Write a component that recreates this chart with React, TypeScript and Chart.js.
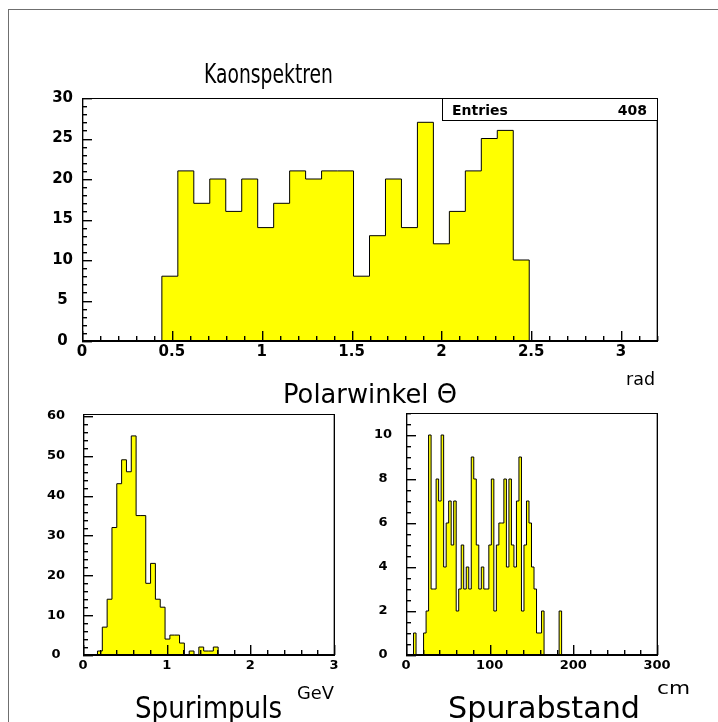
import React, { useEffect, useRef } from "react";
import { Chart, registerables } from "chart.js";

Chart.register(...registerables);

// ---------------- data ----------------
const kaonRange = [0, 3.2];
const kaonCounts = [
  0, 0, 0, 0, 0, 8, 21, 17, 20, 16, 20, 14, 17, 21, 20, 21, 21, 8, 13, 20, 14, 27, 12, 16, 21, 25, 26, 10,
  0, 0, 0, 0, 0, 0, 0, 0,
];
const kaonXTicks = [0, 0.5, 1, 1.5, 2, 2.5, 3];
const kaonYTicks = [0, 5, 10, 15, 20, 25, 30];
const kaonYMax = 30;
const kaonEntries = 408;

const momentumRange = [0, 3];
const momentumCounts = [
  0, 0, 0, 1, 7, 14, 32, 43, 49, 46, 55, 35, 35, 18, 23, 14, 12, 4, 5, 5, 3, 0, 1, 0, 2, 1, 1, 2,
  0, 0, 0, 0, 0, 0, 0, 0, 0, 0, 0, 0, 0, 0, 0, 0, 0, 0, 0, 0, 0, 0, 0, 0,
];
const momentumXTicks = [0, 1, 2, 3];
const momentumYTicks = [0, 10, 20, 30, 40, 50, 60];
const momentumYMax = 60.5;

const distanceRange = [0, 300];
const distanceCounts = [
  0, 0, 0, 1, 0, 0, 0,
  1, 2, 10, 3, 3, 8, 7, 10, 4, 6,
  7, 5, 7, 2, 3, 5, 3, 4, 3, 9,
  8, 5, 3, 4, 3, 3, 5, 8, 2, 5,
  6, 6, 8, 4, 8, 5, 4, 7, 9, 2,
  5, 7, 6, 4, 3, 1, 1, 2,
  0, 0, 0, 0, 0, 0,
  2,
  0, 0, 0, 0, 0, 0, 0, 0, 0, 0, 0, 0, 0, 0, 0, 0, 0, 0, 0,
  0, 0, 0, 0, 0, 0, 0, 0, 0, 0, 0, 0, 0, 0, 0, 0, 0, 0, 0,
];
const distanceXTicks = [0, 100, 200, 300];
const distanceYTicks = [0, 2, 4, 6, 8, 10];
const distanceYMax = 11;

// ---------------- layout / style ----------------
const W = 718;
const H = 722;
const AXIS_W = 50;
const AXIS_H = 30;
const TICK_FONT = '"DejaVu Sans"';
const TITLE_FONT = '"DejaVu Sans"';
const TITLE_WEIGHT = "normal";

type TextSpec = { text: string; left: number; baseline: number; size: number; width: number };

type Spec = {
  counts: number[];
  range: number[];
  yMax: number;
  xTicks: number[];
  yTicks: number[];
  xMinor: number;
  yMinor: number;
  xMajor: number;
  yMajor: number;
  area: { left: number; right: number; top: number; bottom: number };
  tickSize: number;
  xPad: number;
  yPad: number;
  majorLen: number;
  minorLen: number;
  texts: TextSpec[];
  statBox?: { left: number; top: number; right: number; bottom: number; label: string; value: string; size: number; textLeft: number; textRight: number; baseline: number };
  outerFrame?: boolean;
};

function histPoints(counts: number[], range: number[]) {
  const [lo, hi] = range;
  const w = (hi - lo) / counts.length;
  const pts: { x: number; y: number }[] = [{ x: lo, y: 0 }];
  counts.forEach((c, i) => pts.push({ x: lo + i * w, y: c }));
  pts.push({ x: hi, y: 0 });
  return pts;
}

function isMultiple(v: number, step: number) {
  const r = v / step;
  return Math.abs(r - Math.round(r)) < 1e-6;
}

function makePlugin(spec: Spec) {
  return {
    id: "histFrame",
    afterDraw(chart: any) {
      const ctx: CanvasRenderingContext2D = chart.ctx;
      const a = chart.chartArea;
      const xs = chart.scales.x;
      const ys = chart.scales.y;
      const L = Math.round(a.left);
      const R = Math.round(a.right);
      const T = Math.round(a.top);
      const B = Math.round(a.bottom);
      const [x0, x1] = spec.range;
      ctx.save();
      // frame box with thicker bottom axis
      ctx.fillStyle = "#000";
      ctx.fillRect(L, T, R - L + 1, 1);
      ctx.fillRect(L, T, 1, B - T + 1);
      ctx.fillRect(R, T, 1, B - T + 1);
      ctx.fillRect(L, B - 1, R - L + 1, 2);
      ctx.fillStyle = "rgba(0,0,0,0.35)";
      ctx.fillRect(L + 1, T + 1, 1, B - T - 1);
      ctx.fillRect(R - 1, T + 1, 1, B - T - 1);
      // x ticks (inward, from the bottom axis)
      const nx = Math.round((x1 - x0) / spec.xMinor + 1e-6);
      for (let i = 0; i <= nx; i++) {
        const v = x0 + i * spec.xMinor;
        const px = Math.min(Math.round(xs.getPixelForValue(v)), R);
        const len = isMultiple(v, spec.xMajor) ? spec.majorLen : spec.minorLen;
        ctx.fillStyle = "#000";
        ctx.fillRect(px, B - len, 1, len);
        ctx.fillStyle = "rgba(0,0,0,0.4)";
        ctx.fillRect(px + 1, B - len, 1, len);
      }
      // y ticks (inward, from the left axis)
      const ny = Math.floor(spec.yMax / spec.yMinor + 1e-6);
      for (let i = 0; i <= ny; i++) {
        const v = i * spec.yMinor;
        const py = Math.max(Math.round(ys.getPixelForValue(v)), T);
        const len = isMultiple(v, spec.yMajor) ? spec.majorLen : spec.minorLen;
        ctx.fillStyle = "#000";
        ctx.fillRect(L, py, len, 1);
        ctx.fillStyle = "rgba(0,0,0,0.4)";
        ctx.fillRect(L, py + 1, len, 1);
      }

      if (spec.statBox) {
        const s = spec.statBox;
        ctx.fillStyle = "#fff";
        ctx.fillRect(s.left, s.top, s.right - s.left, s.bottom - s.top);
        ctx.fillStyle = "#000";
        ctx.fillRect(s.left, s.top, s.right - s.left + 1, 1);
        ctx.fillRect(s.left, s.bottom, s.right - s.left + 1, 1);
        ctx.fillRect(s.left, s.top, 1, s.bottom - s.top);
        ctx.fillRect(s.right, s.top, 1, s.bottom - s.top);
        ctx.font = `bold ${s.size}px ${TICK_FONT}`;
        ctx.textBaseline = "alphabetic";
        ctx.textAlign = "left";
        ctx.fillText(s.label, s.textLeft, s.baseline);
        ctx.textAlign = "right";
        ctx.fillText(s.value, s.textRight, s.baseline);
      }

      if (spec.outerFrame) {
        ctx.fillStyle = "#6f6f6f";
        ctx.fillRect(8, 9, 1, H - 9);
        ctx.fillRect(8, 9, W - 8, 1);
      }

      ctx.fillStyle = "#000";
      ctx.textAlign = "left";
      ctx.textBaseline = "alphabetic";
      for (const t of spec.texts) {
        ctx.font = `${TITLE_WEIGHT} ${t.size}px ${TITLE_FONT}`;
        const m = ctx.measureText(t.text).width || 1;
        ctx.save();
        ctx.translate(t.left, t.baseline);
        ctx.scale(t.width / m, 1);
        ctx.fillText(t.text, 0, 0);
        ctx.restore();
      }
      ctx.restore();
    },
  };
}

function makeConfig(spec: Spec): any {
  const { area } = spec;
  const font = { family: TICK_FONT, size: spec.tickSize, weight: "bold" as const };
  return {
    type: "line",
    data: {
      datasets: [
        {
          data: histPoints(spec.counts, spec.range),
          stepped: true,
          fill: "origin",
          borderColor: "#000",
          borderWidth: 1,
          backgroundColor: "#ffff00",
          pointRadius: 0,
          pointHoverRadius: 0,
          tension: 0,
        },
      ],
    },
    options: {
      responsive: false,
      animation: false,
      events: [],
      layout: {
        padding: {
          left: area.left - AXIS_W,
          right: W - area.right,
          top: area.top,
          bottom: H - area.bottom - AXIS_H,
        },
      },
      plugins: { legend: { display: false }, tooltip: { enabled: false }, title: { display: false } },
      scales: {
        x: {
          type: "linear",
          min: spec.range[0],
          max: spec.range[1],
          grid: { display: false, drawTicks: false },
          border: { display: false },
          afterBuildTicks: (s: any) => {
            s.ticks = spec.xTicks.map((v) => ({ value: v }));
          },
          afterFit: (s: any) => {
            s.height = AXIS_H;
            s.paddingLeft = 0;
            s.paddingRight = 0;
          },
          ticks: {
            autoSkip: false,
            maxRotation: 0,
            minRotation: 0,
            padding: spec.xPad,
            color: "#000",
            font,
            callback: (v: number) => String(v),
          },
        },
        y: {
          type: "linear",
          min: 0,
          max: spec.yMax,
          grid: { display: false, drawTicks: false },
          border: { display: false },
          afterBuildTicks: (s: any) => {
            s.ticks = spec.yTicks.map((v) => ({ value: v }));
          },
          afterFit: (s: any) => {
            s.width = AXIS_W;
            s.paddingTop = 0;
            s.paddingBottom = 0;
          },
          ticks: {
            autoSkip: false,
            crossAlign: "center",
            padding: spec.yPad,
            color: "#000",
            font,
            callback: (v: number) => String(v),
          },
        },
      },
    },
    plugins: [makePlugin(spec)],
  };
}

const specs: Spec[] = [
  {
    counts: kaonCounts,
    range: kaonRange,
    yMax: kaonYMax,
    xTicks: kaonXTicks,
    yTicks: kaonYTicks,
    xMinor: 0.1,
    yMinor: 1,
    xMajor: 0.5,
    yMajor: 5,
    area: { left: 82, right: 657, top: 98, bottom: 341 },
    tickSize: 15,
    xPad: 2,
    yPad: 9,
    majorLen: 10,
    minorLen: 5,
    outerFrame: true,
    statBox: {
      left: 442,
      top: 98,
      right: 657,
      bottom: 120,
      label: "Entries",
      value: String(kaonEntries),
      size: 14,
      textLeft: 452,
      textRight: 647,
      baseline: 115,
    },
    texts: [
      { text: "Kaonspektren", left: 204, baseline: 83, size: 27, width: 129 },
      { text: "Polarwinkel Θ", left: 283, baseline: 403, size: 27, width: 174 },
      { text: "rad", left: 626, baseline: 385, size: 17, width: 29 },
    ],
  },
  {
    counts: momentumCounts,
    range: momentumRange,
    yMax: momentumYMax,
    xTicks: momentumXTicks,
    yTicks: momentumYTicks,
    xMinor: 0.2,
    yMinor: 2,
    xMajor: 1,
    yMajor: 10,
    area: { left: 83, right: 334, top: 414, bottom: 655 },
    tickSize: 13,
    xPad: 3,
    yPad: 18,
    majorLen: 10,
    minorLen: 5,
    texts: [
      { text: "Spurimpuls", left: 135, baseline: 718, size: 30, width: 147 },
      { text: "GeV", left: 297, baseline: 699, size: 17, width: 37 },
    ],
  },
  {
    counts: distanceCounts,
    range: distanceRange,
    yMax: distanceYMax,
    xTicks: distanceXTicks,
    yTicks: distanceYTicks,
    xMinor: 20,
    yMinor: 0.5,
    xMajor: 100,
    yMajor: 2,
    area: { left: 406, right: 657, top: 413, bottom: 655 },
    tickSize: 13,
    xPad: 3,
    yPad: 14,
    majorLen: 10,
    minorLen: 5,
    texts: [
      { text: "Spurabstand", left: 448, baseline: 718, size: 30, width: 192 },
      { text: "cm", left: 657, baseline: 694, size: 17, width: 33 },
    ],
  },
];

function HistCanvas({ spec }: { spec: Spec }) {
  const ref = useRef<HTMLCanvasElement | null>(null);
  useEffect(() => {
    if (!ref.current) return;
    const chart = new Chart(ref.current, makeConfig(spec));
    return () => chart.destroy();
  }, [spec]);
  return (
    <canvas
      ref={ref}
      width={W}
      height={H}
      style={{ position: "absolute", left: 0, top: 0, width: W, height: H }}
    />
  );
}

export default function App() {
  return (
    <div style={{ position: "absolute", left: 0, top: 0, width: W, height: H, background: "#fff", overflow: "hidden" }}>
      {specs.map((s, i) => (
        <HistCanvas key={i} spec={s} />
      ))}
    </div>
  );
}
